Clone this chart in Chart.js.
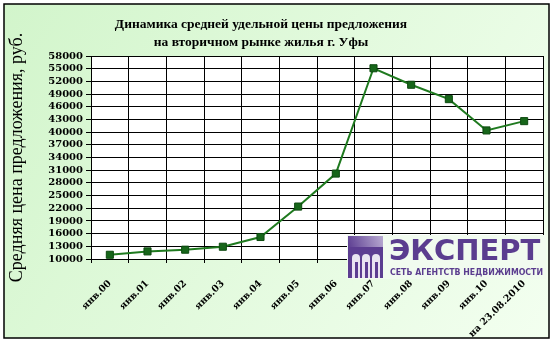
<!DOCTYPE html>
<html>
<head>
<meta charset="utf-8">
<script src="https://cdn.jsdelivr.net/npm/chart.js@4/dist/chart.umd.min.js"></script>
<style>
  html, body { margin: 0; padding: 0; background: #ffffff; }
  #wrap { width: 555px; height: 342px; position: relative; }
</style>
</head>
<body>
<div id="wrap"><canvas id="priceChart"></canvas></div>
<script>
// Chart data
const periods = ['янв.00', 'янв.01', 'янв.02', 'янв.03', 'янв.04', 'янв.05',
    'янв.06', 'янв.07', 'янв.08', 'янв.09', 'янв.10', 'на 23.08.2010'];
const prices = [11000, 11800, 12200, 12900, 15200, 22400,
    30200, 55100, 51200, 47800, 40400, 42600];
const yMin = 10000;
const yMax = 58000;
const yStep = 3000;
const titleLines = ['Динамика средней удельной цены предложения', 'на вторичном рынке жилья г. Уфы'];
const yTitle = 'Средняя цена предложения, руб.';
const logoName = 'ЭКСПЕРТ';
const logoSub = 'СЕТЬ АГЕНТСТВ НЕДВИЖИМОСТИ';

const labelFont = { family: '"DejaVu Serif"', size: 10, weight: 'bold' };

// Background, frame and title
const frame = {
    id: 'frame',
    beforeDraw(chart) {
        const ctx = chart.ctx;
        const area = chart.chartArea;
        ctx.save();
        ctx.fillStyle = '#ffffff';
        ctx.fillRect(0, 0, chart.width, chart.height);
        const grad = ctx.createLinearGradient(4, 4, 549, 338);
        grad.addColorStop(0, '#d2f5cb');
        grad.addColorStop(1, '#f3fff0');
        ctx.fillStyle = grad;
        ctx.fillRect(4, 4, 545, 334);
        ctx.strokeStyle = '#000000';
        ctx.lineWidth = 1.5;
        ctx.strokeRect(4, 4, 545, 334);
        ctx.fillStyle = '#ffffff';
        ctx.fillRect(area.left, area.top, area.right - area.left, area.bottom - area.top);

        ctx.fillStyle = '#000000';
        ctx.font = 'bold 13.5px "Liberation Serif"';
        ctx.textAlign = 'center';
        ctx.textBaseline = 'middle';
        ctx.fillText(titleLines[0], 261, 25);
        ctx.fillText(titleLines[1], 261, 43);
        ctx.restore();
    }
};

// Company logo in the lower right corner
const logo = {
    id: 'logo',
    afterDraw(chart) {
        const ctx = chart.ctx;
        ctx.save();
        ctx.fillStyle = '#f1fbef';
        ctx.fillRect(347, 235, 199, 44);

        // icon
        const ig = ctx.createLinearGradient(348, 248, 383, 236);
        ig.addColorStop(0, '#5c3d91');
        ig.addColorStop(1, '#b9abd2');
        ctx.fillStyle = ig;
        ctx.fillRect(348, 236, 35, 11);
        ctx.fillStyle = '#5c3d91';
        ctx.fillRect(348, 247, 35, 31);
        ctx.fillStyle = '#e9e4f1';
        [353, 363, 373].forEach(x => {
            ctx.beginPath();
            ctx.moveTo(x - 1, 278);
            ctx.lineTo(x - 1, 258);
            ctx.arc(x + 3, 258, 4, Math.PI, 0);
            ctx.lineTo(x + 7, 278);
            ctx.closePath();
            ctx.fill();
        });
        ctx.fillStyle = '#5c3d91';
        [355, 365, 375].forEach(x => ctx.fillRect(x, 262, 3, 16));

        ctx.fillStyle = '#5b3d8f';
        ctx.textAlign = 'left';
        ctx.textBaseline = 'alphabetic';
        ctx.font = 'bold 29px "DejaVu Sans"';
        ctx.fillText(logoName, 389, 260, 155);
        ctx.font = 'bold 8px "DejaVu Sans"';
        ctx.fillText(logoSub, 390, 275, 153);
        ctx.restore();
    }
};

new Chart(document.getElementById('priceChart'), {
    type: 'line',
    data: {
        labels: periods,
        datasets: [{
            data: prices,
            borderColor: '#1f7a1f',
            borderWidth: 2,
            pointStyle: 'rect',
            pointRadius: 5,
            pointBackgroundColor: '#17661a',
            pointBorderColor: '#0d4a10',
            pointBorderWidth: 1,
            tension: 0
        }]
    },
    options: {
        responsive: true,
        maintainAspectRatio: false,
        animation: false,
        layout: { padding: { left: 6, right: 12, top: 56, bottom: 4 } },
        plugins: {
            legend: { display: false },
            tooltip: { enabled: false }
        },
        scales: {
            x: {
                offset: true,
                grid: { offset: true, color: '#000000', lineWidth: 1, tickLength: 4 },
                border: { color: '#000000', width: 1 },
                ticks: {
                    color: '#000000',
                    font: { family: '"DejaVu Serif"', size: 9.5, weight: 'bold' },
                    maxRotation: 45,
                    minRotation: 45,
                    autoSkip: false,
                    padding: 15
                },
                afterFit(scale) { scale.height = 79; }
            },
            y: {
                min: yMin,
                max: yMax,
                grid: { color: '#000000', lineWidth: 1, tickLength: 5 },
                border: { color: '#000000', width: 1 },
                ticks: {
                    stepSize: yStep,
                    autoSkip: false,
                    color: '#000000',
                    font: labelFont,
                    padding: 3,
                    callback: v => String(v)
                },
                title: {
                    display: true,
                    text: yTitle,
                    color: '#000000',
                    font: { family: '"Liberation Serif"', size: 18 },
                    padding: { top: 0, bottom: 2 }
                },
                afterFit(scale) { scale.width = 85; }
            }
        }
    },
    plugins: [frame, logo]
});
</script>
</body>
</html>
